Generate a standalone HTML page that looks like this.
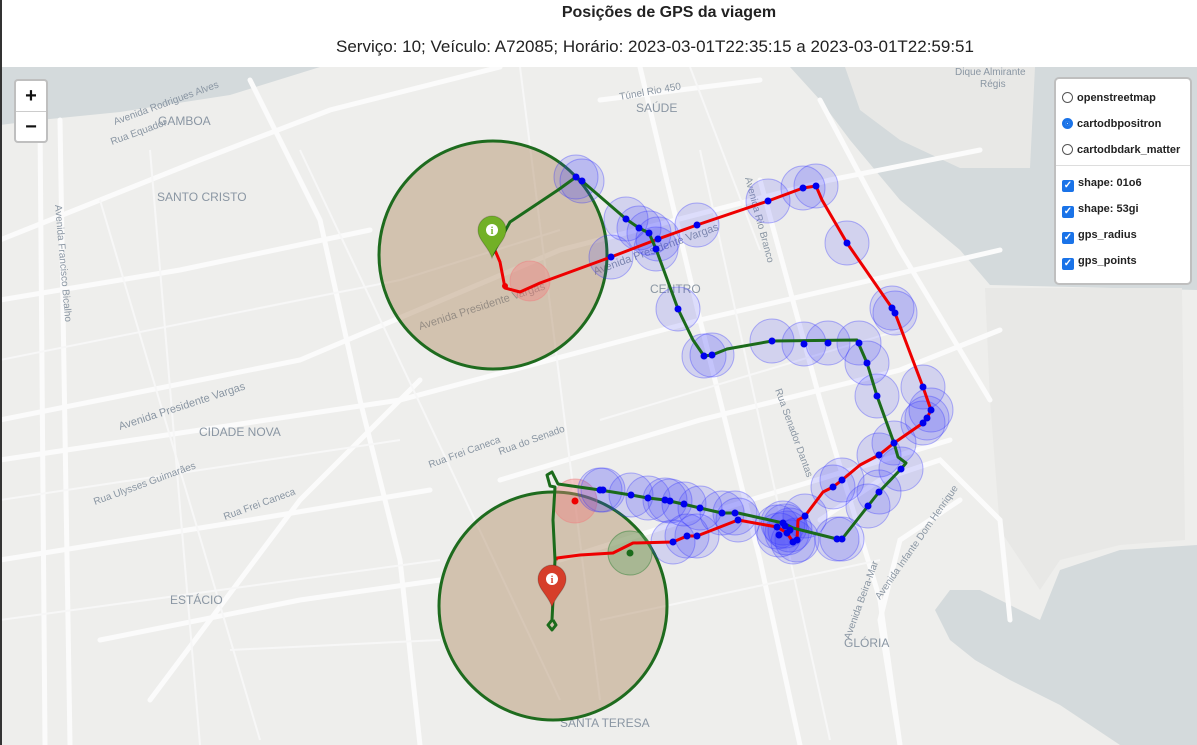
<!DOCTYPE html>
<html><head><meta charset="utf-8"><style>
html,body{margin:0;padding:0;width:1197px;height:745px;overflow:hidden;background:#fff;font-family:"Liberation Sans",Arial,sans-serif}
#wrap{position:relative;width:1197px;height:745px}
.t1{position:absolute;left:0;width:1338px;top:4px;text-align:center;font-weight:bold;font-size:16px;color:#222}
.t2{position:absolute;left:0;width:1310px;top:37px;text-align:center;font-size:17px;color:#222}
#lb{position:absolute;left:0;top:0;width:2px;height:745px;background:#333}
#map{position:absolute;left:2px;top:67px}
.zoom{position:absolute;left:14px;top:79px;width:30px;height:60px;background:#fff;border:2px solid rgba(0,0,0,0.25);border-radius:4px}
.zoom div{height:30px;line-height:30px;text-align:center;font-size:20px;font-weight:bold;color:#111}
.zoom div:first-child{border-bottom:1px solid #ccc}
.lc{position:absolute;left:1054px;top:77px;width:134px;height:204px;background:#fff;border:2px solid rgba(0,0,0,0.25);border-radius:5px;font-size:11px;color:#222;font-weight:bold}
.row{position:absolute;left:6px;height:18px;line-height:18px}
.rb{display:inline-block;width:11px;height:11px;border:1px solid #555;border-radius:50%;vertical-align:-2px;margin-right:4px;box-sizing:border-box}
.rb.on{border:3px solid #1a73e8;background:#fff;box-shadow:inset 0 0 0 2px #1a73e8}
.cb{display:inline-block;width:12px;height:12px;background:#1a73e8;border-radius:2px;vertical-align:-2px;margin-right:4px;color:#fff;font-size:10px;line-height:12px;text-align:center}
.sep{position:absolute;left:0;right:0;top:86px;border-top:1px solid #ddd}
</style></head><body>
<div id="wrap">
<div class="t1">Posições de GPS da viagem</div>
<div class="t2">Serviço: 10; Veículo: A72085; Horário: 2023-03-01T22:35:15 a 2023-03-01T22:59:51</div>
<div id="lb"></div>
<svg id="map" width="1195" height="678" viewBox="2 67 1195 678" xmlns="http://www.w3.org/2000/svg">
<rect x="0" y="60" width="1200" height="700" fill="#eeeeec"/>
<g fill="#d4dadc">
<path d="M0 67 L320 67 L230 95 L120 112 L40 120 L0 125 Z"/>
<path d="M790 67 L1197 67 L1197 745 L1120 745 L1060 705 L1010 680 L975 660 L950 640 L935 610 L950 590 L980 590 L1010 605 L1040 620 L1060 570 L1120 550 L1197 545 L1197 290 L990 285 L960 250 L900 200 L850 140 L820 100 Z"/>
</g>
<g fill="#e8e8e6">
<path d="M845 67 L1035 67 L1030 168 L960 168 L900 140 L860 110 Z"/>
<path d="M985 288 L1182 288 L1185 540 L1120 545 L1060 560 L1040 590 L1000 530 L990 400 Z"/>
</g>
<g stroke="#fbfbfb" stroke-width="5" fill="none" stroke-linecap="round">
<path d="M0 240 L200 160 L330 110 L500 67"/><path d="M0 420 L300 360 L560 250 L830 180 L980 150"/>
<path d="M0 460 L400 400 L700 320 L1000 250"/><path d="M40 120 L45 745"/><path d="M60 120 L70 745"/>
<path d="M250 80 L320 220 L360 400 L400 560 L420 745"/><path d="M150 700 L300 500 L420 380"/>
<path d="M640 67 L700 320 L760 560 L800 745"/><path d="M760 180 L820 400 L880 600 L900 745"/>
<path d="M500 480 L700 420 L900 370 L1000 330"/><path d="M560 560 L750 500 L950 440"/>
<path d="M820 520 L880 480 L940 460 L1000 520 L1010 620"/><path d="M900 745 L880 620 L900 540 L960 500"/>
<path d="M0 560 L250 520 L430 490"/><path d="M100 640 L300 600 L440 580"/><path d="M0 300 L180 270 L370 230"/>
<path d="M600 100 L760 80"/><path d="M820 100 L900 250 L990 400"/>
</g>
<g stroke="#f7f7f7" stroke-width="2" fill="none">
<path d="M100 200 L260 740"/><path d="M150 150 L200 745"/><path d="M300 150 L560 700"/><path d="M520 67 L600 700"/>
<path d="M0 360 L400 280 L560 230"/><path d="M0 500 L400 440"/><path d="M0 620 L440 560"/><path d="M700 150 L830 740"/>
<path d="M600 420 L900 330"/><path d="M600 620 L880 560"/><path d="M690 67 L760 250"/><path d="M230 650 L440 640"/>
</g>
<g fill="#8a96a3" font-family="Liberation Sans, sans-serif" font-size="12">
<text x="158" y="125">GAMBOA</text><text x="157" y="201">SANTO CRISTO</text><text x="636" y="112">SAÚDE</text>
<text x="650" y="293">CENTRO</text><text x="199" y="436">CIDADE NOVA</text><text x="170" y="604">ESTÁCIO</text>
<text x="844" y="647">GLÓRIA</text><text x="560" y="727">SANTA TERESA</text>
<text x="955" y="75" font-size="10">Dique Almirante</text><text x="980" y="87" font-size="10">Régis</text>
<text x="620" y="100" font-size="10" transform="rotate(-10 620 100)">Túnel Rio 450</text>
<text x="115" y="125" font-size="10" transform="rotate(-20 115 125)">Avenida Rodrigues Alves</text>
<text x="112" y="145" font-size="10" transform="rotate(-20 112 145)">Rua Equador</text>
<text x="420" y="330" font-size="11" transform="rotate(-18 420 330)">Avenida Presidente Vargas</text>
<text x="120" y="430" font-size="11" transform="rotate(-18 120 430)">Avenida Presidente Vargas</text>
<text x="595" y="275" font-size="11" transform="rotate(-20 595 275)">Avenida Presidente Vargas</text>
<text x="55" y="205" font-size="10" transform="rotate(85 55 205)">Avenida Francisco Bicalho</text>
<text x="430" y="468" font-size="10" transform="rotate(-20 430 468)">Rua Frei Caneca</text>
<text x="225" y="520" font-size="10" transform="rotate(-20 225 520)">Rua Frei Caneca</text>
<text x="95" y="505" font-size="10" transform="rotate(-20 95 505)">Rua Ulysses Guimarães</text>
<text x="500" y="455" font-size="10" transform="rotate(-20 500 455)">Rua do Senado</text>
<text x="775" y="390" font-size="10" transform="rotate(70 775 390)">Rua Senador Dantas</text>
<text x="850" y="640" font-size="10" transform="rotate(-70 850 640)">Avenida Beira-Mar</text>
<text x="880" y="600" font-size="10" transform="rotate(-55 880 600)">Avenida Infante Dom Henrique</text>
<text x="745" y="178" font-size="10" transform="rotate(75 745 178)">Avenida Rio Branco</text>
</g>
<g id="overlay"></g>
</svg>
<div class="zoom"><div>+</div><div>−</div></div>
<div class="lc">
<div class="row" style="top:10px"><span class="rb"></span>openstreetmap</div>
<div class="row" style="top:36px"><span class="rb on"></span>cartodbpositron</div>
<div class="row" style="top:62px"><span class="rb"></span>cartodbdark_matter</div>
<div class="sep"></div>
<div class="row" style="top:95px"><span class="cb">✓</span>shape: 01o6</div>
<div class="row" style="top:121px"><span class="cb">✓</span>shape: 53gi</div>
<div class="row" style="top:147px"><span class="cb">✓</span>gps_radius</div>
<div class="row" style="top:173px"><span class="cb">✓</span>gps_points</div>
</div>
</div>
<script>
// Route shapes (screen coords of projected lon/lat)
const greenShapeX=[492,510,558,576,582,626,639,649,656,678,693,704,712,727,772,857,867,877,894,898,906,901,879,868,842,837,793,783,738,722,700,683,665,648,631,600,558,552,547,550,555,553,555,553,552,548,552,556,553];
const greenShapeY=[255,222,190,177,181,219,228,233,249,309,340,356,355,349,341,340,363,396,443,457,463,469,492,506,539,539,528,523,513,513,508,504,500,498,495,490,484,472,475,486,487,520,560,600,620,625,630,625,620];
const redShapeX=[494,500,505,520,540,611,658,697,768,803,816,822,847,892,895,923,931,927,923,894,879,860,842,833,823,805,798,797,793,787,777,738,697,687,673,633,613,580,557,556];
const redShapeY=[248,262,288,292,283,257,239,225,201,188,186,200,243,308,313,387,410,418,423,443,455,465,480,487,492,516,520,540,542,533,527,520,536,536,542,543,553,555,558,560];
const gpsX=[576,582,626,639,649,658,656,611,697,768,803,816,847,892,895,678,704,712,772,804,828,859,867,877,923,931,927,923,894,879,901,879,868,842,833,805,837,842,600,603,631,648,665,670,684,700,722,735,738,777,783,787,793,797,673,687,697,779,790,785];
const gpsY=[177,181,219,228,233,239,249,257,225,201,188,186,243,308,313,309,356,355,341,344,343,343,363,396,387,410,418,423,443,455,469,492,506,480,487,516,539,539,490,490,495,498,500,501,504,508,513,513,520,527,523,533,542,540,542,536,536,535,530,526];
const startX=493, startY=255, endX=553, endY=606;
const ns='http://www.w3.org/2000/svg';
const ov=document.getElementById('overlay');
function mk(tag,attrs){const e=document.createElementNS(ns,tag);for(const k in attrs)e.setAttribute(k,attrs[k]);ov.appendChild(e);return e;}
let e;
e=mk('circle',{cx:startX,cy:startY,r:114,fill:'#a77f55','fill-opacity':0.4,stroke:'#1e6b1e','stroke-width':3});


e=mk('circle',{cx:endX,cy:endY,r:114,fill:'#a77f55','fill-opacity':0.4,stroke:'#1e6b1e','stroke-width':3});


e=mk('circle',{cx:530,cy:281,r:20,fill:'#f08080','fill-opacity':0.4,stroke:'#f08080','stroke-opacity':0.5});


e=mk('circle',{cx:575,cy:501,r:22,fill:'#f08080','fill-opacity':0.4,stroke:'#f08080','stroke-opacity':0.5});


e=mk('circle',{cx:630,cy:553,r:22,fill:'#6aa86a','fill-opacity':0.4,stroke:'#4a8a4a','stroke-opacity':0.6});


for(let i=0;i<gpsX.length;i++){
  e=mk('circle',{cx:gpsX[i],cy:gpsY[i],r:22,fill:'#3333ff','fill-opacity':0.15,stroke:'#3333ff','stroke-opacity':0.35,'stroke-width':1});
  
  
}
function pts(xs,ys){return xs.map((x,i)=>x+','+ys[i]).join(' ');}
e=mk('polyline',{points:pts(redShapeX,redShapeY),fill:'none',stroke:'#ee0000','stroke-width':3,'stroke-linejoin':'round'});


e=mk('polyline',{points:pts(greenShapeX,greenShapeY),fill:'none',stroke:'#1b6b1b','stroke-width':3,'stroke-linejoin':'round'});


for(let i=0;i<gpsX.length;i++){
  e=mk('circle',{cx:gpsX[i],cy:gpsY[i],r:3.5,fill:'#0000ee'});
  
  
}
e=mk('circle',{cx:505,cy:286,r:3,fill:'#ee0000'});


e=mk('circle',{cx:575,cy:501,r:3.5,fill:'#ee0000'});


e=mk('circle',{cx:630,cy:553,r:3.5,fill:'#1b6b1b'});


function pin(x,y,col,name){
  const g=document.createElementNS(ns,'g');ov.appendChild(g);
  
  
  g.innerHTML='<path d="M'+x+' '+y+' C'+(x-4)+' '+(y-12)+' '+(x-14)+' '+(y-18)+' '+(x-14)+' '+(y-28)+' A14 14 0 1 1 '+(x+14)+' '+(y-28)+' C'+(x+14)+' '+(y-18)+' '+(x+4)+' '+(y-12)+' '+x+' '+y+' Z" fill="'+col+'" stroke="rgba(0,0,0,0.2)"/>'+
  '<circle cx="'+x+'" cy="'+(y-28)+'" r="6" fill="#fff"/><text x="'+x+'" y="'+(y-24)+'" text-anchor="middle" font-size="10" font-weight="bold" fill="'+col+'" font-family="Liberation Serif, serif">i</text>';
}
pin(492,258,'#72b026','start-marker');
pin(552,607,'#d63e2a','end-marker');
</script>
</body></html>
